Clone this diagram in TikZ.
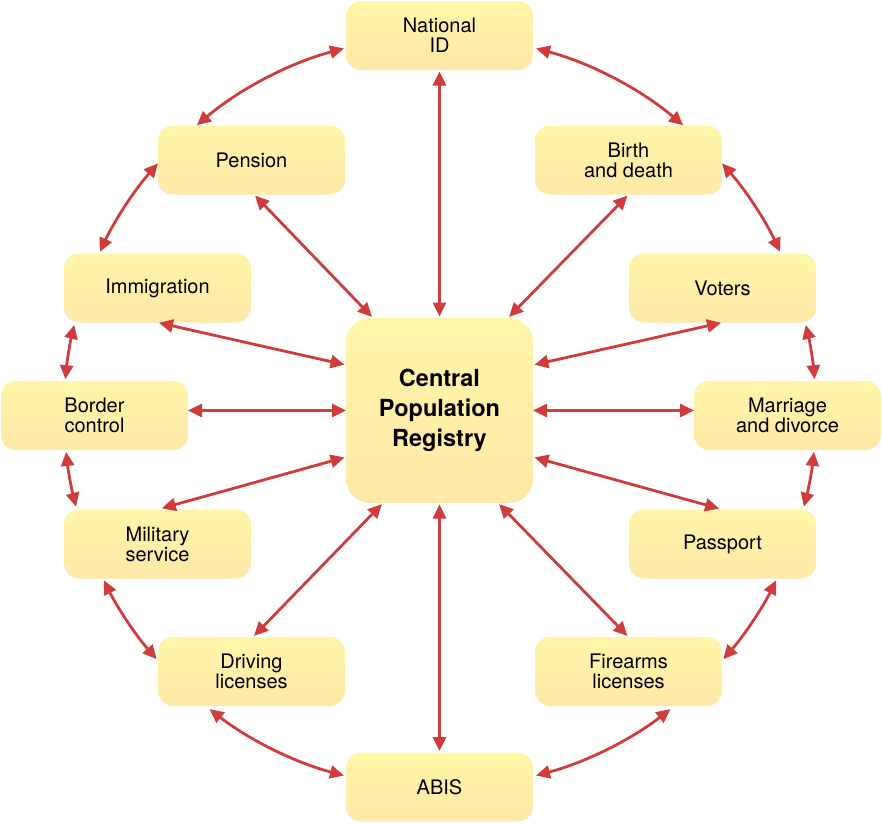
\documentclass[tikz,border=0pt]{standalone}
\usepackage{fontspec}
\setmainfont{TeX Gyre Heros}
\usetikzlibrary{arrows.meta,calc}
\definecolor{arrc}{RGB}{208,59,59}
\definecolor{boxtop}{RGB}{255,246,168}
\definecolor{boxbot}{RGB}{255,232,168}
\begin{document}
\begin{tikzpicture}[x=1pt,y=1pt,
  box/.style={rectangle, rounded corners=15pt, minimum width=187pt, minimum height=69pt,
    top color=boxtop, bottom color=boxbot, draw=none, align=center, inner sep=0pt, outer sep=0pt,
    font=\fontsize{20}{20}\selectfont},
  hub/.style={box, minimum height=185pt, rounded corners=24pt,
    font=\fontsize{23.5}{30}\selectfont\bfseries},
  arr/.style={draw=arrc, line width=2.8pt, {Triangle[length=14pt,width=13pt,fill=arrc]}-{Triangle[length=14pt,width=13pt,fill=arrc]}},
  sarr/.style={arr, shorten <=1.5pt, shorten >=1.5pt}]
\useasboundingbox (0,0) rectangle (882,-823);
\node[hub] (cpr) at (439.5,-410.5) {Central\\Population\\Registry};
\node[box] (nid) at (439.5,-35.5) {National\\ID};
\node[box] (pen) at (251.5,-160) {Pension};
\node[box] (bir) at (628.5,-160) {Birth\\and death};
\node[box] (imm) at (157.5,-288) {Immigration};
\node[box] (vot) at (722.5,-288) {Voters};
\node[box] (bor) at (94.5,-415.5) {Border\\control};
\node[box] (mar) at (787.5,-415.5) {Marriage\\and divorce};
\node[box] (mil) at (157.5,-544) {Military\\service};
\node[box] (pas) at (722.5,-544) {Passport};
\node[box] (drv) at (251.5,-671.5) {Driving\\licenses};
\node[box] (fir) at (628.5,-671.5) {Firearms\\licenses};
\node[box] (abis) at (439.5,-787) {ABIS};
% spokes
\draw[sarr] (cpr.north) -- (nid.south);
\draw[sarr] ($(cpr.north west)+(27pt,0)$) -- ($(pen.south)+(2.5pt,0)$);
\draw[sarr] ($(cpr.north east)+(-25pt,0)$) -- (bir.south);
\draw[sarr] ($(cpr.north west)+(0,-47pt)$) -- (imm.south);
\draw[sarr] ($(cpr.north east)+(0,-47pt)$) -- (vot.south);
\draw[arr] (cpr.west) -- (cpr.west -| bor.east);
\draw[arr] (cpr.east) -- (cpr.east -| mar.west);
\draw[sarr, shorten >=4.5pt] ($(cpr.south west)+(0,46pt)$) -- (mil.north);
\draw[sarr, shorten >=3.5pt] ($(cpr.south east)+(0,46pt)$) -- (pas.north);
\draw[sarr] ($(cpr.south west)+(37pt,0)$) -- ($(drv.north)+(1.5pt,0)$);
\draw[sarr] ($(cpr.south east)+(-35pt,0)$) -- (fir.north);
\draw[sarr] (cpr.south) -- (abis.north);
% ring
\coordinate (O) at (440,-412);
\foreach \a/\b in {104.8/130.3, 138.6/154.8, 166.6/175.0, 186.1/194.6, 206.6/221.1, 232.2/255.2,
                   75.2/49.7, 41.4/25.2, 13.4/5.0, -6.1/-14.6, -26.6/-41.1, -52.2/-75.2}{
  \coordinate (s) at ($(O)+(\a:376pt)$);
  \draw[arr] (s) arc[start angle=\a, end angle=\b, radius=376pt];
}
\end{tikzpicture}
\end{document}
